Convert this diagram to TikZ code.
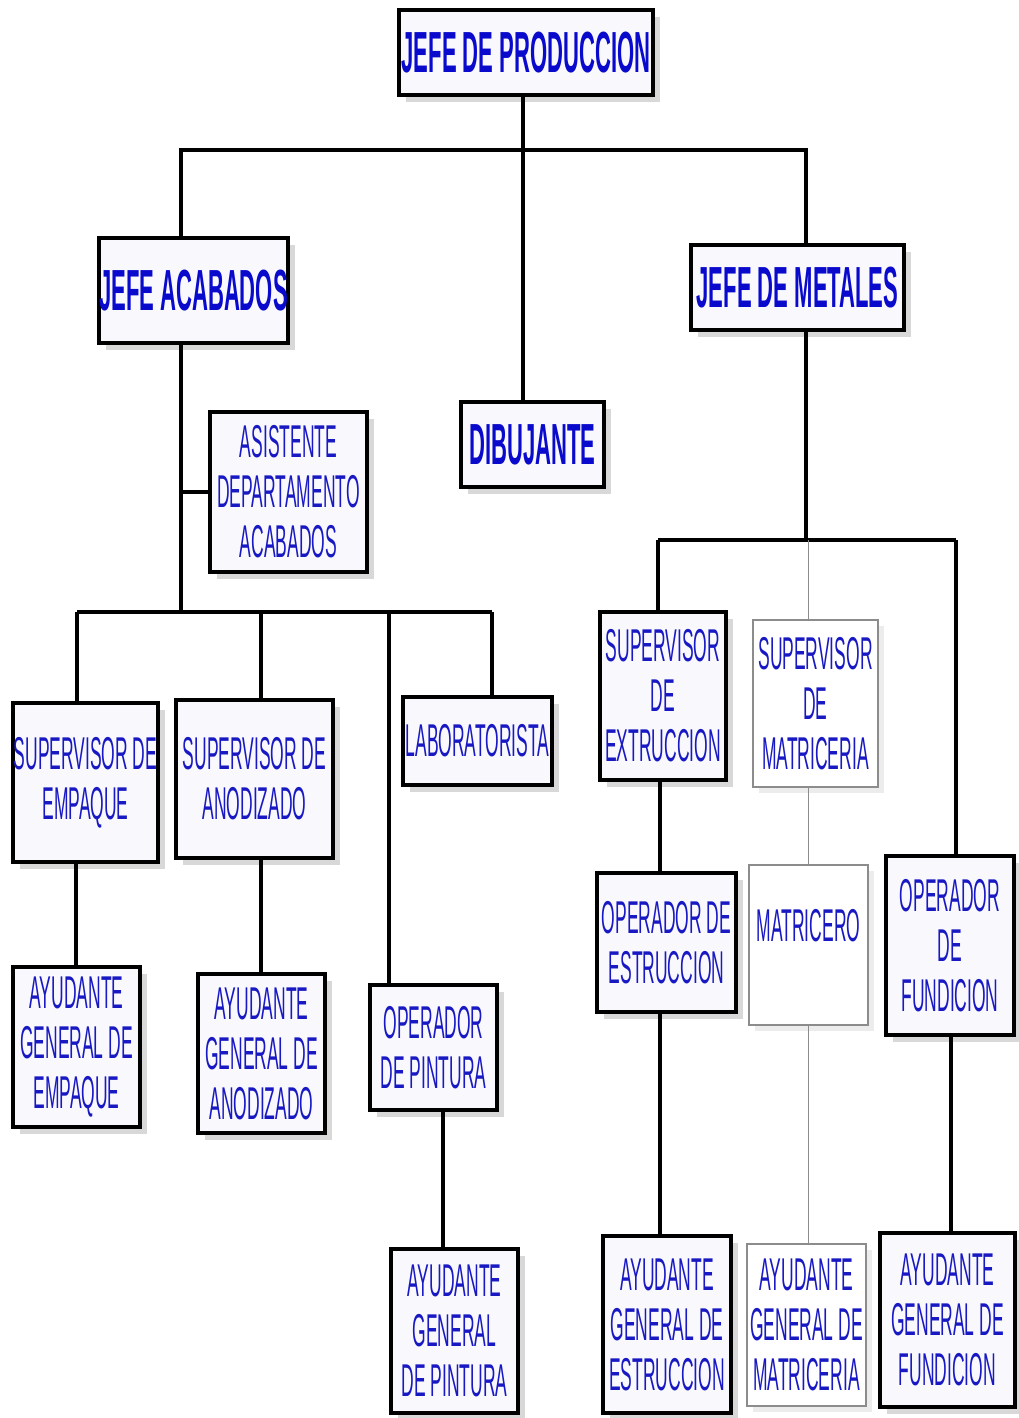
\documentclass[tikz,border=0pt]{standalone}
\usepackage{fontspec}
\usetikzlibrary{shadows}
\newfontfamily\narfont[FakeStretch=0.38]{Liberation Sans}
\definecolor{txtblue}{RGB}{25,25,195}
\definecolor{titleblue}{RGB}{10,10,205}
\definecolor{boxfill}{RGB}{248,248,253}
\begin{document}
\begin{tikzpicture}[x=1pt,y=-1pt,
  base/.style={rectangle, inner sep=0pt, align=center, text=txtblue, fill=boxfill},
  thickbox/.style={base, draw=black, line width=4pt,
    drop shadow={shadow xshift=7pt, shadow yshift=-7pt, fill=black!25, opacity=0.6}},
  thinbox/.style={base, fill=white, draw=black!45, line width=1.2pt,
    drop shadow={shadow xshift=6pt, shadow yshift=-6pt, fill=black!12, opacity=0.6}},
  titlebox/.style={thickbox, text=titleblue, font=\narfont\bfseries\fontsize{58}{62}\selectfont},
  rolebox/.style={thickbox, font=\narfont\fontsize{46}{50}\selectfont},
  lightbox/.style={thinbox, font=\narfont\fontsize{46}{50}\selectfont},
  link/.style={line width=3.5pt, black},
  thinlink/.style={line width=1pt, black!45},
]
\useasboundingbox (0,0) rectangle (1018,1418);
\fill[white] (0,0) rectangle (1018,1418);

% top level
\node[titlebox, minimum width=254pt, minimum height=85pt] (jp) at (526,52.5) {JEFE DE PRODUCCION};
\node[titlebox, minimum width=189pt, minimum height=105pt] (ja) at (193.5,290.5) {JEFE ACABADOS};
\node[titlebox, minimum width=213pt, minimum height=85pt] (jm) at (797.5,287.5) {JEFE DE METALES};
\node[titlebox, minimum width=143pt, minimum height=85pt] (dib) at (532.5,444.5) {DIBUJANTE};

% acabados branch
\node[rolebox, minimum width=157pt, minimum height=160pt] (asis) at (288.5,492) {ASISTENTE\\DEPARTAMENTO\\ACABADOS};
\node[rolebox, minimum width=145pt, minimum height=159pt] (sempq) at (85.5,782.5) {SUPERVISOR DE\\EMPAQUE};
\node[rolebox, minimum width=157pt, minimum height=158pt] (sanod) at (254.5,779) {SUPERVISOR DE\\ANODIZADO};
\node[rolebox, minimum width=149pt, minimum height=88pt] (lab) at (477.5,741) {LABORATORISTA};
\node[rolebox, minimum width=127pt, minimum height=160pt] (aempq) at (76.5,1047) {AYUDANTE\\GENERAL DE\\EMPAQUE};
\node[rolebox, minimum width=127pt, minimum height=159pt] (aanod) at (261.5,1053.5) {AYUDANTE\\GENERAL DE\\ANODIZADO};
\node[rolebox, minimum width=127pt, minimum height=125pt] (opint) at (433.5,1047.5) {OPERADOR\\DE PINTURA};
\node[rolebox, minimum width=127pt, minimum height=164pt] (apint) at (454.5,1331) {AYUDANTE\\GENERAL\\DE PINTURA};

% metales branch
\node[rolebox, minimum width=126pt, minimum height=168pt] (sext) at (663,696) {SUPERVISOR\\DE\\EXTRUCCION};
\node[lightbox, minimum width=125pt, minimum height=167pt] (smat) at (815.5,703.5) {SUPERVISOR\\DE\\MATRICERIA};
\node[rolebox, minimum width=139pt, minimum height=139pt] (oest) at (666.5,942.5) {OPERADOR DE\\ESTRUCCION};
\node[lightbox, minimum width=119pt, minimum height=160pt, text depth=40pt] (matr) at (808.5,945) {MATRICERO};
\node[rolebox, minimum width=128pt, minimum height=179pt] (ofund) at (950,945.5) {OPERADOR\\DE\\FUNDICION};
\node[rolebox, minimum width=128pt, minimum height=177pt] (aest) at (667,1324.5) {AYUDANTE\\GENERAL DE\\ESTRUCCION};
\node[lightbox, minimum width=119pt, minimum height=162pt] (amat) at (806.5,1325) {AYUDANTE\\GENERAL DE\\MATRICERIA};
\node[rolebox, minimum width=135pt, minimum height=174pt] (afund) at (947.5,1320) {AYUDANTE\\GENERAL DE\\FUNDICION};

% junction coordinates
\coordinate (c0) at (523,150);
\coordinate (c1) at (181,150);
\coordinate (c2) at (806,150);
\coordinate (c3) at (181,612);
\coordinate (c4) at (77,612);
\coordinate (c4b) at (261,612);
\coordinate (c4c) at (389,612);
\coordinate (c5) at (492,612);
\coordinate (c6) at (806,540);
\coordinate (c7) at (658,540);
\coordinate (c8) at (956,540);
\coordinate (c9) at (808,540);
\coordinate (xa) at (76,0);
\coordinate (xb) at (261,0);
\coordinate (xc) at (443,0);
\coordinate (xd) at (660,0);
\coordinate (xe) at (951,0);

% top connectors
\draw[link] (jp.south-|c0) -- (dib.north-|c0);
\draw[link] (ja.north-|c1) -- (c1) -- (c2) -- (jm.north-|c2);

% acabados connectors
\draw[link] (ja.south-|c3) -- (c3);
\draw[link] (asis.west) -- (asis.west-|c3);
\draw[link] (c4) -- (c5);
\draw[link] (c4) -- (sempq.north-|c4);
\draw[link] (c4b) -- (sanod.north-|c4b);
\draw[link] (c4c) -- (opint.north-|c4c);
\draw[link] (c5) -- (lab.north-|c5);
\draw[link] (sempq.south-|xa) -- (aempq.north-|xa);
\draw[link] (sanod.south-|xb) -- (aanod.north-|xb);
\draw[link] (opint.south-|xc) -- (apint.north-|xc);

% metales connectors
\draw[link] (jm.south-|c6) -- (c6);
\draw[link] (c7) -- (c8);
\draw[link] (c7) -- (sext.north-|c7);
\draw[link] (c8) -- (ofund.north-|c8);
\draw[link] (sext.south-|xd) -- (oest.north-|xd);
\draw[link] (oest.south-|xd) -- (aest.north-|xd);
\draw[link] (ofund.south-|xe) -- (afund.north-|xe);
\draw[thinlink] (c9) -- (smat.north-|c9);
\draw[thinlink] (smat.south-|c9) -- (matr.north-|c9);
\draw[thinlink] (matr.south-|c9) -- (amat.north-|c9);
\end{tikzpicture}
\end{document}
